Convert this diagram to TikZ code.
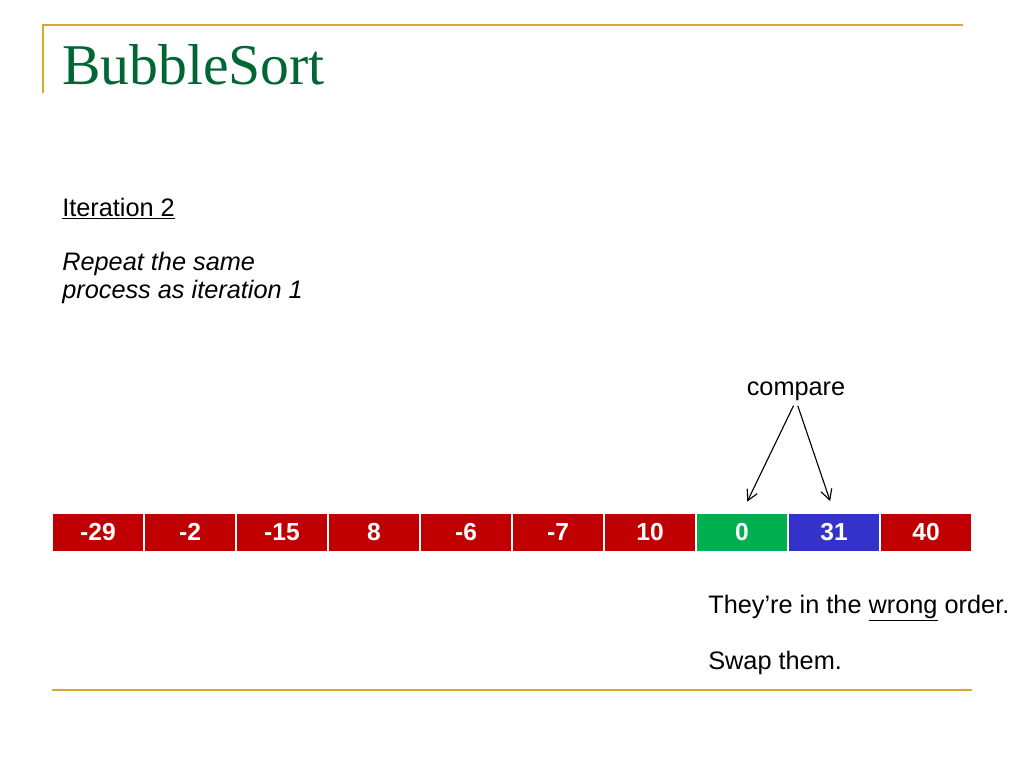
\documentclass[tikz,border=0pt]{standalone}
\usepackage{fontspec}
\setmainfont{Liberation Sans}
\newfontfamily\titlefont{Liberation Serif}
\usetikzlibrary{arrows.meta}
\definecolor{gold}{RGB}{214,168,48}
\definecolor{titlegreen}{RGB}{0,102,51}
\definecolor{cellred}{RGB}{192,0,0}
\definecolor{cellgreen}{RGB}{0,176,80}
\definecolor{cellblue}{RGB}{51,51,204}
\begin{document}
\begin{tikzpicture}
[ x=0.025cm, y=-0.025cm
, rule/.style={draw=gold, line width=1.5pt}
, cell/.style={rectangle, draw=white, line width=0.8pt, minimum width=2.3cm, minimum height=0.975cm, inner sep=0pt, text height=2.1ex, text depth=0ex, text=white, font=\fontsize{17.5}{20}\selectfont\bfseries}
, words/.style={anchor=base west, inner sep=0pt, font=\fontsize{18}{21}\selectfont}
, pointer/.style={-{Straight Barb[length=2.6mm, width=2.8mm]}, line width=0.8pt, shorten <=4pt, shorten >=0.3cm}
]
\useasboundingbox (0,0) rectangle (1024,768);
% Frame lines:
\draw [rule] (43,93) -- (43,25) -- (963,25);
\draw [rule] (52,690) -- (972,690);
% Title and notes:
\node (title) [anchor=base west, inner sep=0pt, text=titlegreen, font=\fontsize{41}{48}\selectfont\titlefont] at (62,85) {BubbleSort};
\node (iter) [words] at (62,216) {\underline{Iteration 2}};
\node (rep1) [words, font=\fontsize{18}{21}\selectfont\itshape] at (62,270) {Repeat the same};
\node (rep2) [words, font=\fontsize{18}{21}\selectfont\itshape] at (62,298) {process as iteration 1};
% The array:
\foreach \val/\col [count=\i] in {-29/cellred, -2/cellred, -15/cellred, 8/cellred, -6/cellred, -7/cellred, 10/cellred, 0/cellgreen, 31/cellblue, 40/cellred}
  \node (c\i) [cell, fill=\col] at ({6+92*\i},532.5) {\val};
% Compare:
\node (cmp) [words, anchor=base] at (796,395) {compare};
\draw [pointer] (cmp.south) -- (c8.north);
\draw [pointer] (cmp.south) -- (c9.north);
\node (wrong) [words] at (708,613) {They’re in the \underline{wrong} order.};
\node (swap) [words] at (708,669) {Swap them.};
\end{tikzpicture}
\end{document}
